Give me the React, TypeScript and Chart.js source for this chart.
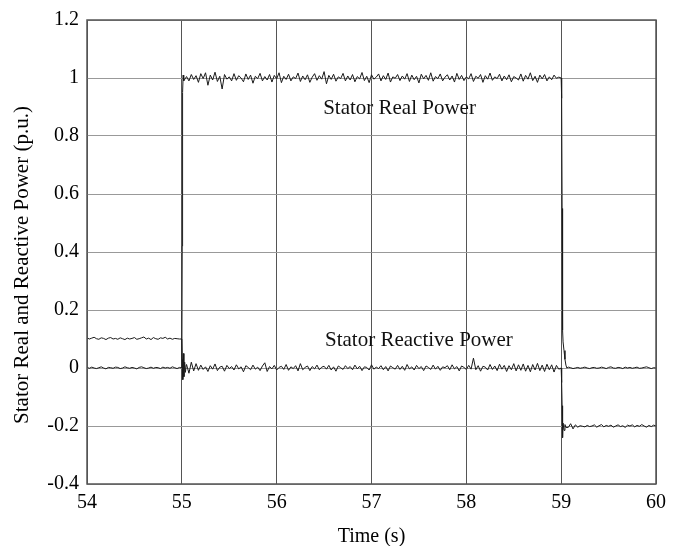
import React, { useEffect, useRef } from "react";
import { Chart, registerables } from "chart.js";

Chart.register(...registerables);

// ---------- axes ----------
const X_MIN = 54;
const X_MAX = 60;
const Y_MIN = -0.4;
const Y_MAX = 1.2;
const xTickValues = [54, 55, 56, 57, 58, 59, 60];
const yTickValues = [-0.4, -0.2, 0, 0.2, 0.4, 0.6, 0.8, 1, 1.2];
const xTitle = "Time (s)";
const yTitle = "Stator Real and Reactive Power (p.u.)";

// ---------- sampling ----------
const SAMPLE_STEP = 0.025;
const preStart = 54.0;
const midStart = 55.05;
const postStart = 59.075;

// ---------- Stator real power ----------
const realPre = [
  0.002, -0.001, 0.003, 0.0, -0.002, 0.001, 0.004, 0.0, -0.003, 0.002,
  0.001, -0.001, 0.003, 0.002, -0.002, 0.0, 0.004, 0.001, -0.001, 0.002,
  0.0, -0.003, 0.002, 0.004, 0.001, -0.002, 0.0, 0.003, -0.001, 0.002,
  0.001, -0.002, 0.003, 0.0, 0.002, -0.001, 0.004, 0.001, -0.002, 0.002,
];
const realJumpT = [55.0, 55.004, 55.008, 55.014, 55.02];
const realJumpV = [0.0, 0.42, 0.95, 1.01, 0.99];
const realMid = [
  1.005, 0.99, 1.012, 0.995, 1.008, 0.985, 1.015, 0.998, 1.018, 0.975,
  1.01, 0.993, 1.02, 0.988, 1.006, 0.962, 1.012, 0.996, 1.004, 0.99,
  1.015, 0.992, 1.008, 1.0, 0.987, 1.014, 0.995, 1.01, 0.982, 1.006,
  0.998, 1.016, 0.99, 1.005, 0.993, 1.012, 0.986, 1.009, 0.997, 1.018,
  0.984, 1.006, 0.995, 1.013, 0.99, 1.004, 0.998, 1.017, 0.988, 1.007,
  0.994, 1.011, 0.985, 1.003, 1.015, 0.992, 1.008, 0.996, 1.022, 0.98,
  1.009, 0.995, 1.013, 0.989, 1.004, 0.998, 1.016, 0.99, 1.007, 0.993,
  1.012, 0.987, 1.005, 0.997, 1.019, 0.991, 1.006, 0.984, 1.011, 0.996,
  1.003, 1.014, 0.99, 1.008, 0.995, 1.017, 0.986, 1.004, 0.999, 1.012,
  0.991, 1.007, 0.996, 1.015, 0.988, 1.01, 0.994, 1.006, 0.983, 1.013,
  0.997, 1.009, 0.992, 1.018, 0.989, 1.005, 0.998, 1.014, 0.99, 1.003,
  1.011, 0.993, 1.007, 0.986, 1.016, 0.995, 1.009, 0.991, 1.004, 0.997,
  1.015, 0.988, 1.006, 0.999, 1.012, 0.985, 1.008, 0.996, 1.017, 0.992,
  1.004, 0.998, 1.013, 0.99, 1.007, 0.994, 1.011, 0.987, 1.005, 1.0,
  0.993, 1.014, 0.989, 1.009, 0.996, 1.018, 0.991, 1.006, 0.985, 1.01,
  0.997, 1.012, 0.99, 1.004, 0.994, 1.01, 0.999, 1.003,
];
const realDropT = [59.0, 59.005, 59.01, 59.015, 59.02, 59.03, 59.04, 59.05, 59.06];
const realDropV = [1.0, 0.93, 0.55, 0.13, 0.09, 0.06, 0.03, 0.01, 0.0];
const realPost = [
  0.003, 0.001, -0.002, 0.0, 0.002, -0.001, 0.001, 0.003, 0.0, -0.002,
  0.001, 0.002, -0.001, 0.0, 0.003, 0.001, -0.002, 0.002, 0.004, 0.0,
  -0.001, 0.002, 0.001, -0.002, 0.003, 0.0, 0.002, -0.001, 0.001, 0.003,
  -0.001, 0.0, 0.002, 0.004, 0.001, -0.002, 0.001, 0.0,
];

// ---------- Stator reactive power ----------
const reactivePre = [
  0.104, 0.1, 0.103, 0.106, 0.101, 0.099, 0.104, 0.102, 0.098, 0.103,
  0.105, 0.1, 0.102, 0.099, 0.104, 0.101, 0.098, 0.103, 0.1, 0.102,
  0.105, 0.099, 0.101, 0.104, 0.107, 0.1, 0.103, 0.098, 0.105, 0.101,
  0.099, 0.104, 0.102, 0.106, 0.1, 0.103, 0.099, 0.102, 0.101, 0.1,
];
const reactiveJumpT = [55.0, 55.005, 55.01, 55.016, 55.022, 55.03, 55.038, 55.046];
const reactiveJumpV = [0.1, 0.03, -0.04, 0.05, -0.03, 0.02, -0.015, 0.01];
const reactiveMid = [
  0.012, -0.018, 0.02, -0.01, 0.015, -0.008, 0.01, -0.005, 0.004, -0.012,
  0.008, -0.004, 0.014, -0.009, 0.003, 0.006, -0.011, 0.009, -0.002, 0.005,
  -0.007, 0.011, -0.003, 0.004, -0.013, 0.008, 0.002, -0.006, 0.01, -0.004,
  0.003, -0.009, 0.007, 0.018, -0.012, 0.005, -0.003, 0.009, -0.007, 0.002,
  0.006, -0.005, 0.012, -0.008, 0.004, -0.002, 0.008, -0.01, 0.015, -0.006,
  0.002, 0.007, -0.009, 0.005, -0.003, 0.01, -0.006, 0.003, 0.006, -0.004,
  0.009, -0.007, 0.004, -0.011, 0.007, 0.001, -0.005, 0.008, -0.002, 0.005,
  -0.006, 0.01, -0.003, 0.006, -0.009, 0.004, 0.002, -0.007, 0.011, -0.004,
  0.003, -0.002, 0.008, -0.006, 0.005, -0.01, 0.007, 0.001, -0.004, 0.009,
  -0.005, 0.006, -0.008, 0.012, -0.003, 0.004, -0.007, 0.009, -0.002, 0.005,
  -0.009, 0.007, 0.002, -0.005, 0.01, -0.004, 0.006, -0.008, 0.004, 0.001,
  0.008, -0.006, 0.011, -0.003, 0.005, -0.01, 0.007, 0.002, -0.005, 0.009,
  -0.004, 0.034, -0.006, 0.008, -0.011, 0.006, 0.003, -0.007, 0.012, -0.005,
  0.007, -0.009, 0.013, -0.004, 0.009, -0.012, 0.008, -0.006, 0.015, -0.01,
  0.011, -0.008, 0.014, -0.011, 0.009, -0.013, 0.012, -0.007, 0.016, -0.009,
  0.01, -0.012, 0.013, -0.006, 0.011, -0.014, 0.009, -0.004,
];
const reactiveDropT = [59.0, 59.005, 59.01, 59.015, 59.02, 59.03, 59.04, 59.05];
const reactiveDropV = [0.0, -0.05, -0.13, -0.24, -0.19, -0.215, -0.195, -0.205];
const reactivePost = [
  -0.205, -0.192, -0.21, -0.196, -0.204, -0.199, -0.201, -0.203, -0.198, -0.202,
  -0.2, -0.196, -0.204, -0.199, -0.195, -0.203, -0.198, -0.201, -0.197, -0.204,
  -0.2, -0.196, -0.202, -0.199, -0.205, -0.197, -0.2, -0.196, -0.203, -0.198,
  -0.201, -0.195, -0.2, -0.204, -0.198, -0.202, -0.197, -0.2,
];

// ---------- in-plot labels ----------
const labelTexts = ["Stator Real Power", "Stator Reactive Power"];
const labelX = [56.49, 56.51];
const labelY = [0.894, 0.096];

// ---------- helpers ----------
type Pt = { x: number; y: number };
const seg = (t0: number, vals: number[]): Pt[] =>
  vals.map((v, i) => ({ x: +(t0 + i * SAMPLE_STEP).toFixed(4), y: v }));
const pairs = (ts: number[], vs: number[]): Pt[] => ts.map((t, i) => ({ x: t, y: vs[i] }));

const realData: Pt[] = [
  ...seg(preStart, realPre),
  ...pairs(realJumpT, realJumpV),
  ...seg(midStart, realMid),
  ...pairs(realDropT, realDropV),
  ...seg(postStart, realPost),
];
const reactiveData: Pt[] = [
  ...seg(preStart, reactivePre),
  ...pairs(reactiveJumpT, reactiveJumpV),
  ...seg(midStart, reactiveMid),
  ...pairs(reactiveDropT, reactiveDropV),
  ...seg(postStart, reactivePost),
];

const FONT = '"Liberation Serif", "Times New Roman", serif';

const frameAndLabels = {
  id: "frameAndLabels",
  afterDatasetsDraw(chart: any) {
    const { ctx, chartArea, scales } = chart;
    const { left, top, right, bottom } = chartArea;
    ctx.save();
    ctx.strokeStyle = "#555";
    ctx.lineWidth = 1.5;
    ctx.strokeRect(left, top, right - left, bottom - top);
    ctx.fillStyle = "#111";
    ctx.font = `21px ${FONT}`;
    ctx.textAlign = "left";
    ctx.textBaseline = "middle";
    labelTexts.forEach((t, i) => {
      ctx.fillText(t, scales.x.getPixelForValue(labelX[i]), scales.y.getPixelForValue(labelY[i]));
    });
    // axis titles
    ctx.fillStyle = "#000";
    ctx.font = `20px ${FONT}`;
    ctx.textAlign = "center";
    ctx.textBaseline = "alphabetic";
    ctx.fillText(xTitle, (left + right) / 2, chart.height - 4);
    ctx.save();
    ctx.translate(22, (top + bottom) / 2 + 13);
    ctx.rotate(-Math.PI / 2);
    ctx.font = `21px ${FONT}`;
    ctx.textBaseline = "middle";
    ctx.fillText(yTitle, 0, 0);
    ctx.restore();
    ctx.restore();
  },
};

export default function App() {
  const ref = useRef<HTMLCanvasElement | null>(null);
  useEffect(() => {
    if (!ref.current) return;
    const chart = new Chart(ref.current, {
      type: "line",
      data: {
        datasets: [
          {
            label: "Stator Real Power",
            data: realData,
            borderColor: "#1a1a1a",
            borderWidth: 1,
            pointRadius: 0,
            tension: 0,
          },
          {
            label: "Stator Reactive Power",
            data: reactiveData,
            borderColor: "#1a1a1a",
            borderWidth: 1,
            pointRadius: 0,
            tension: 0,
          },
        ],
      },
      options: {
        animation: false,
        responsive: false,
        layout: { padding: { left: 0, top: 15, right: 28, bottom: 0 } },
        plugins: { legend: { display: false }, tooltip: { enabled: false } },
        scales: {
          x: {
            type: "linear",
            min: X_MIN,
            max: X_MAX,
            afterBuildTicks: (s: any) => {
              s.ticks = xTickValues.map((v) => ({ value: v }));
            },
            afterFit: (s: any) => {
              s.height = 62;
            },
            grid: { color: "#555", lineWidth: 1, drawTicks: false },
            border: { display: false },
            ticks: {
              color: "#000",
              font: { family: FONT, size: 20 },
              padding: 7,
              maxRotation: 0,
              callback: (v: any) => String(Math.round(Number(v) * 10) / 10),
            },
            title: { display: false, text: xTitle },
          },
          y: {
            type: "linear",
            min: Y_MIN,
            max: Y_MAX,
            afterBuildTicks: (s: any) => {
              s.ticks = yTickValues.map((v) => ({ value: v }));
            },
            afterFit: (s: any) => {
              s.width = 87;
            },
            grid: { color: "#999", lineWidth: 1, drawTicks: false },
            border: { display: false },
            ticks: {
              color: "#000",
              font: { family: FONT, size: 20 },
              padding: 8,
              callback: (v: any) => String(Math.round(Number(v) * 10) / 10),
            },
            title: { display: false, text: yTitle },
          },
        },
      },
      plugins: [frameAndLabels],
    });
    return () => chart.destroy();
  }, []);
  return (
    <div style={{ position: "absolute", left: 0, top: 0, width: 684, height: 546, background: "#fff" }}>
      <canvas ref={ref} width={684} height={546} style={{ display: "block" }} />
    </div>
  );
}
